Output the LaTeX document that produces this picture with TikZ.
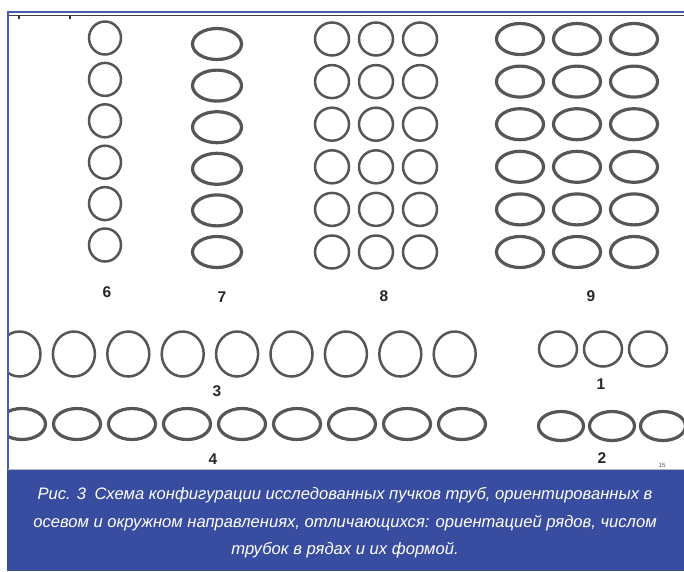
\documentclass[tikz,border=0pt]{standalone}
\usepackage{fontspec}
\setmainfont{Liberation Sans}
\usetikzlibrary{shapes.geometric}

\definecolor{bandblue}{RGB}{57,77,160}
\definecolor{rimblue}{RGB}{72,92,182}
\definecolor{tubegray}{RGB}{86,86,86}

\begin{document}
\begin{tikzpicture}[
    x=1pt, y=-1pt,
    tube/.style={ellipse, draw=tubegray, line width=2.5pt, inner sep=0pt},
    thicktube/.style={tube, line width=3.2pt},
    circ/.style={tube, minimum width=32pt, minimum height=33pt},
    tall/.style={tube, minimum width=42pt, minimum height=45pt},
    wide/.style={thicktube, minimum width=47pt, minimum height=31pt},
    num/.style={font=\fontsize{15.5}{15.5}\selectfont\bfseries, text=black!85},
]
\useasboundingbox (0,0) rectangle (684,571);

% ====== Frame ======
\draw[rimblue, line width=1.8pt] (8,12) -- (684,12);
\draw[black!75, line width=1.6pt] (9,15.5) -- (684,15.5);
\draw[black!80, line width=1.5pt] (19,16) -- (19,19) (70,16) -- (70,19);
\draw[rimblue, line width=1.8pt] (8,11.1) -- (8,571);

\begin{scope}
\clip (9,17) rectangle (684,469);
% ====== Bundles 6 and 7 ======
\foreach \i in {1,...,6} {
  \node[circ] (b6-\i) at (105, {38+41.4*(\i-1)}) {};
  \node[wide, minimum width=49pt] (b7-\i) at (217, {44+41.6*(\i-1)}) {};
}
% ====== Bundles 8 and 9 ======
\foreach \j/\xa/\xb in {1/332/520, 2/376/577, 3/420/634}
  \foreach \i in {1,...,6} {
    \node[circ, minimum width=34pt] (b8-\i-\j) at (\xa, {39+42.6*(\i-1)}) {};
    \node[wide] (b9-\i-\j) at (\xb, {39+42.6*(\i-1)}) {};
  }
% ====== Rows 3 and 4 ======
\foreach \k in {1,...,9} {
  \node[tall] (r3-\k) at ({19.5+54.4*(\k-1)}, 354) {};
  \node[wide] (r4-\k) at ({22+55*(\k-1)}, 424) {};
}
% ====== Rows 1 and 2 ======
\foreach \k/\xa/\xb in {1/558/561, 2/603/612, 3/648/663} {
  \node[tube, minimum width=38pt, minimum height=35pt] (r1-\k) at (\xa, 349) {};
  \node[wide, minimum width=45pt, minimum height=29pt] (r2-\k) at (\xb, 426) {};
}
\end{scope}

% ====== Labels ======
\node[num] (lab6) at (107, 292) {6};
\node[num] (lab7) at (222, 297) {7};
\node[num] (lab8) at (384, 296) {8};
\node[num] (lab9) at (591, 296) {9};
\node[num] (lab3) at (217, 391) {3};
\node[num] (lab1) at (601, 384) {1};
\node[num] (lab4) at (213, 459) {4};
\node[num] (lab2) at (602, 458) {2};
\node[font=\fontsize{6}{6}\selectfont, text=black!70] (page) at (662, 465) {15};

% ====== Caption ======
\draw[gray!55, line width=1pt] (8,469) -- (684,469);
\fill[bandblue] (7,470) rectangle (684,571);
\node[align=center, text=white, font=\fontsize{16.6}{27.5}\selectfont\itshape] (caption) at (345, 523)
  {Рис. 3\enspace Схема конфигурации исследованных пучков труб, ориентированных в\\
   осевом и окружном направлениях, отличающихся: ориентацией рядов, числом\\
   трубок в рядах и их формой.};

\end{tikzpicture}
\end{document}
